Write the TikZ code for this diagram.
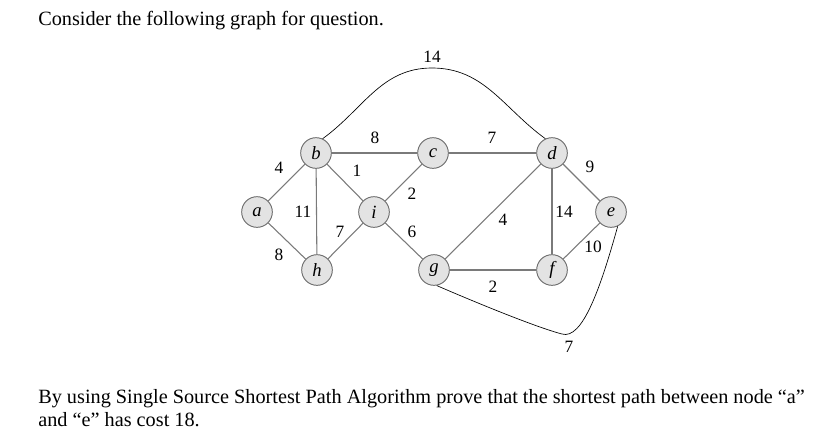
\documentclass[tikz,border=0pt]{standalone}
\usepackage{fontspec}
\setmainfont{Liberation Serif}
\usepackage{tikz}
\usetikzlibrary{positioning}
\definecolor{NodeFill}{HTML}{E3E3E3}
\definecolor{NodeLine}{HTML}{6E6E6E}
\definecolor{EdgeGray}{HTML}{7A7A7A}
\begin{document}
\begin{tikzpicture}[x=0.75pt,y=-0.75pt,
  vtx/.style={circle,draw=NodeLine,fill=NodeFill,line width=0.7pt,minimum size=23pt,inner sep=0pt,font=\fontsize{14}{16}\selectfont\itshape},
  wt/.style={font=\fontsize{13}{15}\selectfont,inner sep=0pt},
  txt/.style={anchor=base west,inner sep=0pt,font=\fontsize{15.2}{18}\selectfont},
  edge/.style={draw=EdgeGray,line width=0.8pt},
  arc/.style={draw=black,line width=0.5pt}]
  \useasboundingbox (0,0) rectangle (832,447);
  % question text
  \node[txt] (q1) at (38,25) {Consider the following graph for question.};
  % vertices
  \node[vtx] (a) at (257,212) {a};
  \node[vtx] (b) at (316,153) {b};
  \node[vtx] (c) at (433,153) {c};
  \node[vtx] (d) at (552,153) {d};
  \node[vtx] (e) at (611,212) {e};
  \node[vtx] (i) at (374,212) {i};
  \node[vtx] (h) at (317,270) {h};
  \node[vtx] (g) at (434,270) {g};
  \node[vtx] (f) at (552,270) {f};
  \coordinate (top) at (432,68);
  \coordinate (low) at (562,334);
  % edges
  \draw[edge] (a)--(b);
  \draw[edge] (a)--(h);
  \draw[edge] (b)--(c);
  \draw[edge] (b)--(h);
  \draw[edge] (b)--(i);
  \draw[edge] (c)--(d);
  \draw[edge] (c)--(i);
  \draw[edge] (i)--(h);
  \draw[edge] (i)--(g);
  \draw[edge] (g)--(d);
  \draw[edge] (g)--(f);
  \draw[edge] (d)--(f);
  \draw[edge] (d)--(e);
  \draw[edge] (f)--(e);
  \draw[arc] (b.65) to[out=36,in=180] (top) to[out=0,in=144] (d.115);
  \draw[arc] (g.-80) .. controls (470,300) and (535,327) .. (low)
    .. controls (582,340) and (600,290) .. (e.-65);
  % weights
  \node[wt] (w1) at (432,57) {14};
  \node[wt] (w2) at (375,138) {8};
  \node[wt] (w3) at (492,138) {7};
  \node[wt] (w4) at (279,168) {4};
  \node[wt] (w5) at (590,167) {9};
  \node[wt] (w6) at (357,171) {1};
  \node[wt] (w7) at (412,194) {2};
  \node[wt] (w8) at (303,212) {11};
  \node[wt] (w9) at (564,212) {14};
  \node[wt] (w10) at (503,220) {4};
  \node[wt] (w11) at (340,232) {7};
  \node[wt] (w12) at (412,232) {6};
  \node[wt] (w13) at (593,247) {10};
  \node[wt] (w14) at (279,255) {8};
  \node[wt] (w15) at (493,287) {2};
  \node[wt] (w16) at (569,347) {7};
  % task text
  \node[txt] (q2) at (38,403) {By using Single Source Shortest Path Algorithm prove that the shortest path between node “a”};
  \node[txt] (q3) at (38,426) {and “e” has cost 18.};
\end{tikzpicture}
\end{document}
